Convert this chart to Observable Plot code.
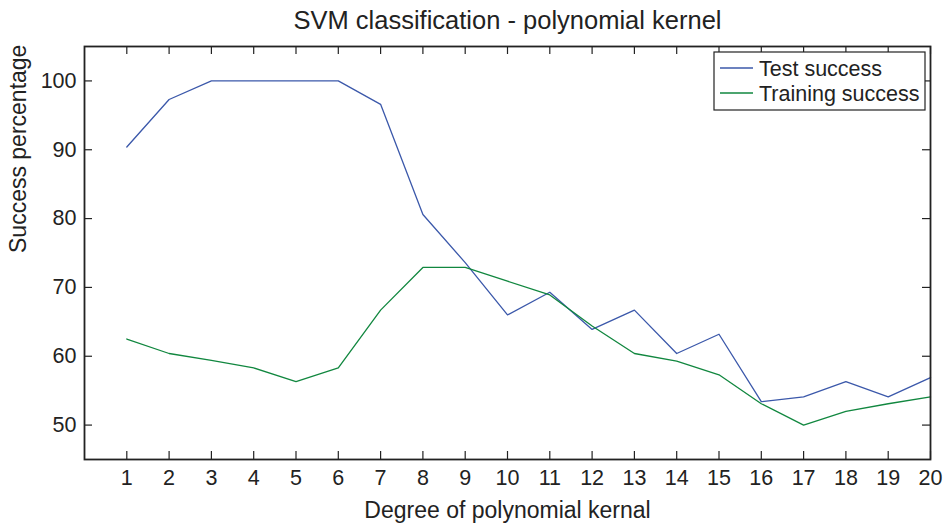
<!DOCTYPE html>
<html>
<head>
<meta charset="utf-8">
<script src="https://cdn.jsdelivr.net/npm/d3@7"></script>
<script src="https://cdn.jsdelivr.net/npm/@observablehq/plot@0.6"></script>
<style>
  html, body { margin: 0; padding: 0; background: #fff; }
  #chart { width: 944px; height: 524px; }
</style>
</head>
<body>
<div id="chart"></div>
<script>
const title = "SVM classification - polynomial kernel";
const xLabel = "Degree of polynomial kernal";
const yLabel = "Success percentage";
const degrees = [1,2,3,4,5,6,7,8,9,10,11,12,13,14,15,16,17,18,19,20];
const testSuccess = [90.4,97.3,100,100,100,100,96.6,80.6,73.6,66.0,69.3,63.9,66.7,60.4,63.2,53.4,54.1,56.3,54.1,56.9];
const trainingSuccess = [62.5,60.4,59.4,58.3,56.3,58.3,66.7,72.9,72.9,70.9,68.9,64.4,60.4,59.3,57.3,53.1,50.0,52.0,53.1,54.1];
const seriesNames = ["Test success", "Training success"];
const seriesColors = ["#3b58aa", "#11873f"];
const xTicks = degrees;
const yTicks = [50,60,70,80,90,100];
const xDomain = [0, 20];
const yDomain = [45, 105];

(function () {
const font = "'Liberation Sans', Arial, Helvetica, sans-serif";
const ink = "#222";

const testData = degrees.map((d, i) => ({x: d, y: testSuccess[i]}));
const trainData = degrees.map((d, i) => ({x: d, y: trainingSuccess[i]}));

const W = 944, H = 524, mL = 84, mR = 14, mT = 46, mB = 65;
const fw = W - mL - mR, fh = H - mT - mB;
const tl = 8; // tick length in px
const tyLen = tl * (yDomain[1] - yDomain[0]) / fh; // tick length in y units
const txLen = tl * (xDomain[1] - xDomain[0]) / fw; // tick length in x units

const plot = Plot.plot({
  width: W, height: H,
  marginLeft: mL, marginRight: mR, marginTop: mT, marginBottom: mB,
  style: {fontFamily: font, background: "#fff", color: ink},
  x: {domain: xDomain},
  y: {domain: yDomain},
  marks: [
    Plot.line(testData, {x: "x", y: "y", stroke: seriesColors[0], strokeWidth: 1.3}),
    Plot.line(trainData, {x: "x", y: "y", stroke: seriesColors[1], strokeWidth: 1.3}),
    Plot.ruleX(xTicks, {x: d => d, y1: yDomain[0], y2: yDomain[0] + tyLen, stroke: ink, strokeWidth: 1.2}),
    Plot.ruleX(xTicks, {x: d => d, y1: yDomain[1], y2: yDomain[1] - tyLen, stroke: ink, strokeWidth: 1.2}),
    Plot.ruleY(yTicks, {y: d => d, x1: xDomain[0], x2: xDomain[0] + txLen, stroke: ink, strokeWidth: 1.2}),
    Plot.ruleY(yTicks, {y: d => d, x1: xDomain[1], x2: xDomain[1] - txLen, stroke: ink, strokeWidth: 1.2}),
    Plot.axisX(xTicks, {tickSize: 0, tickPadding: 10, fontSize: 21.5, label: null, fill: ink}),
    Plot.axisY(yTicks, {tickSize: 0, tickPadding: 8, fontSize: 21.5, label: null, fill: ink}),
    Plot.frame({stroke: ink, strokeWidth: 1.8}),
    Plot.text([title], {frameAnchor: "top", dy: -18, lineAnchor: "bottom", fontSize: 25.5, fill: ink}),
    Plot.text([xLabel], {frameAnchor: "bottom", dy: 58, lineAnchor: "bottom", fontSize: 23, fill: ink}),
    Plot.text([yLabel], {frameAnchor: "left", dx: -59, rotate: -90, lineAnchor: "bottom", fontSize: 23, fill: ink})
  ]
});

document.getElementById("chart").appendChild(plot);

// Legend box (inside the plot area, top right)
const svg = d3.select(plot);
const lg = svg.append("g").attr("font-family", font);
const bx = 714, by = 52, bw = 211, bh = 58;
lg.append("rect").attr("x", bx).attr("y", by).attr("width", bw).attr("height", bh)
  .attr("fill", "#fff").attr("stroke", ink).attr("stroke-width", 1.2);
seriesNames.forEach((name, i) => {
  const cy = 68 + i * 25;
  lg.append("line").attr("x1", bx + 6).attr("x2", bx + 39).attr("y1", cy).attr("y2", cy)
    .attr("stroke", seriesColors[i]).attr("stroke-width", 1.3);
  lg.append("text").attr("x", bx + 45).attr("y", cy).attr("dy", "0.35em")
    .attr("text-anchor", "start").attr("font-size", 21.5).attr("fill", ink).text(name);
});
})();
</script>
</body>
</html>
